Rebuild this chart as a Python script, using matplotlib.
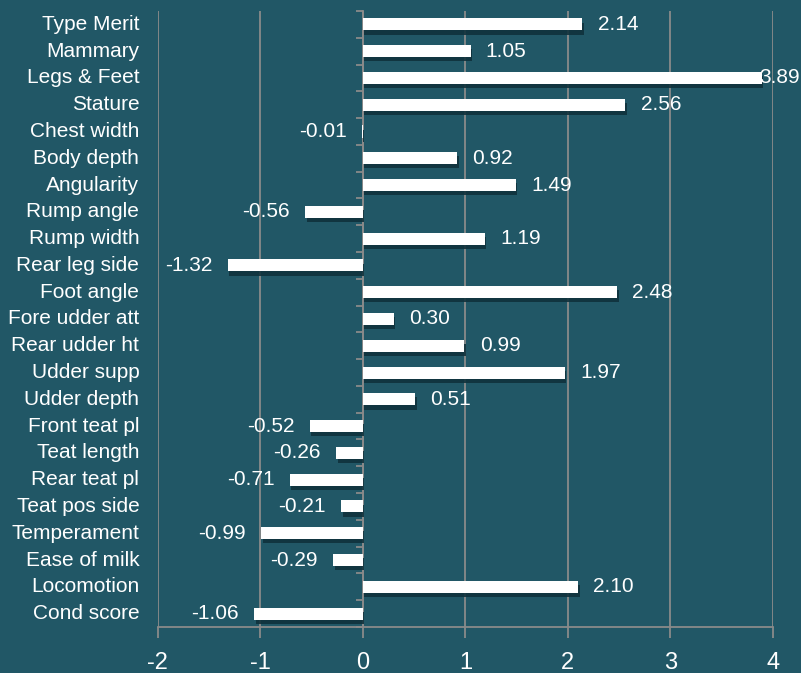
import matplotlib
matplotlib.use("Agg")
from matplotlib import pyplot as plt
from matplotlib import patheffects
import matplotlib.transforms as mtransforms
import numpy as np

plt.rcParams['font.family'] = ['Liberation Sans', 'DejaVu Sans']

# data
traits = ["Type Merit", "Mammary", "Legs & Feet", "Stature", "Chest width", "Body depth",
          "Angularity", "Rump angle", "Rump width", "Rear leg side", "Foot angle",
          "Fore udder att", "Rear udder ht", "Udder supp", "Udder depth", "Front teat pl",
          "Teat length", "Rear teat pl", "Teat pos side", "Temperament", "Ease of milk",
          "Locomotion", "Cond score"]
values = [2.14, 1.05, 3.89, 2.56, -0.01, 0.92, 1.49, -0.56, 1.19, -1.32, 2.48,
          0.30, 0.99, 1.97, 0.51, -0.52, -0.26, -0.71, -0.21, -0.99, -0.29, 2.10, -1.06]
xticks = [-2, -1, 0, 1, 2, 3, 4]

bg = "#215766"
gridc = "#8a8a8a"

fig = plt.figure(figsize=(8.01, 6.73), dpi=100, facecolor=bg)
ax = fig.add_axes([0.197, 0.0684, 0.768, 0.9153], facecolor=bg)

pos = np.arange(len(traits))[::-1]

# bars with a drop shadow
bars = ax.barh(pos, values, height=0.45, color="white", zorder=3)
for b in bars:
    b.set_path_effects([patheffects.SimplePatchShadow(offset=(1, -3), shadow_rgbFace="#10323c", alpha=0.9),
                        patheffects.Normal()])

# value labels
for p, v in zip(pos, values):
    if v >= 0:
        off = 11 if v < 3.5 else -2
        ax.annotate(f"{v:.2f}", xy=(v, p), xytext=(off, 0), textcoords="offset points",
                    ha="left", va="center", color="white", fontsize=15, zorder=4,
                    annotation_clip=False)
    else:
        ax.annotate(f"{v:.2f}", xy=(v, p), xytext=(-11, 0), textcoords="offset points",
                    ha="right", va="center", color="white", fontsize=15, zorder=4)

# category labels on the far left
trans = mtransforms.blended_transform_factory(ax.transAxes, ax.transData)
for p, t in zip(pos, traits):
    ax.text(-0.03, p, t, transform=trans, ha="right", va="center", color="white", fontsize=15)

ax.set_xlim(-2, 4)
ax.set_ylim(-0.5, len(traits) - 0.5)
ax.set_xticks(xticks)
ax.set_xticklabels([str(x) for x in xticks], fontsize=17, color="white")
ax.xaxis.grid(True, color=gridc, linewidth=1.3, zorder=0)
ax.set_axisbelow(True)

# zero line with small ticks between categories
ax.spines["left"].set_position(("data", 0))
ax.spines["left"].set_color(gridc)
ax.spines["left"].set_linewidth(1.3)
ax.spines["left"].set_zorder(2)
ax.set_yticks(pos)
ax.set_yticklabels([])
ax.set_yticks(np.arange(len(traits) + 1) - 0.5, minor=True)
ax.tick_params(axis="y", which="major", length=0)
ax.tick_params(axis="y", which="minor", length=5, color=gridc, width=1.3, direction="out")

ax.spines["bottom"].set_color(gridc)
ax.spines["bottom"].set_linewidth(1.3)
ax.spines["top"].set_visible(False)
ax.spines["right"].set_visible(False)
ax.tick_params(axis="x", length=8, color=gridc, width=1.3, pad=10)

fig.savefig("out.png", dpi=100, facecolor=bg)
